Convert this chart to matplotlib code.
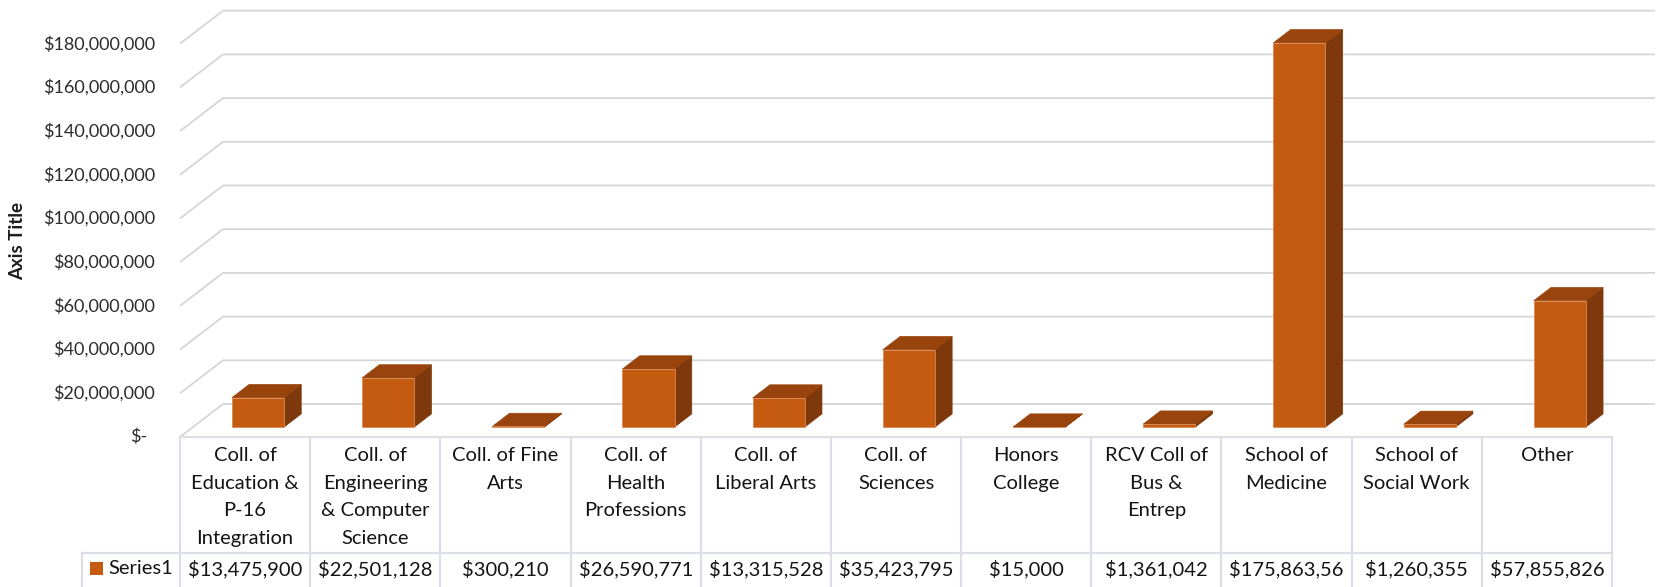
import matplotlib
matplotlib.use("Agg")
import matplotlib.pyplot as plt
from matplotlib.patches import Polygon, Rectangle
from matplotlib.transforms import blended_transform_factory, Bbox

# ---------------- data ----------------
categories = [
    "Coll. of\nEducation &\nP-16\nIntegration",
    "Coll. of\nEngineering\n& Computer\nScience",
    "Coll. of Fine\nArts",
    "Coll. of\nHealth\nProfessions",
    "Coll. of\nLiberal Arts",
    "Coll. of\nSciences",
    "Honors\nCollege",
    "RCV Coll of\nBus &\nEntrep",
    "School of\nMedicine",
    "School of\nSocial Work",
    "Other",
]
values = [13475900, 22501128, 300210, 26590771, 13315528, 35423795,
          15000, 1361042, 175863560, 1260355, 57855826]
series_name = "Series1"
y_ticks = [0, 20000000, 40000000, 60000000, 80000000, 100000000,
           120000000, 140000000, 160000000, 180000000]
y_title = "Axis Title"

# ---------------- style ----------------
plt.rcParams['font.family'] = ['Lato', 'DejaVu Sans']
W, H, DPI = 1658, 587, 100
FRONT = '#C55A11'
TOP = '#99440D'
SIDE = '#7E380B'
GRID = '#d4d6da'
BORDER = '#dcdfe5'
TXT = '#141414'

fig = plt.figure(figsize=(W / DPI, H / DPI), dpi=DPI)
x_left, x_right = 180, 1612
y0_px = 150            # pixel (from bottom) of the value 0 on the front plane
ax = fig.add_axes([x_left / W, y0_px / H, (x_right - x_left) / W, (H - y0_px) / H])
n = len(categories)
ax.set_xlim(0, n)
ax.set_ylim(0, 200000000)
for s in ax.spines.values():
    s.set_visible(False)
ax.set_xticks([])
ax.set_yticks([])

# depth of the floor (oblique projection) in data units
col_px = (x_right - x_left) / n
px_per_val = (H - y0_px) / 200000000
DX = 43 / col_px
DY = 33 / px_per_val

# walls / gridlines
for v in y_ticks:
    ax.plot([0, DX, n + DX], [v, v + DY, v + DY], color=GRID, lw=1.3,
            clip_on=False, zorder=1, solid_capstyle='butt')

# bars
bw = 0.4
f, b = 0.3, 0.7
for i, v in enumerate(values):
    x0 = i + 0.5 - bw / 2
    x1 = x0 + bw
    side = Polygon([(x1 + f * DX, f * DY), (x1 + b * DX, b * DY),
                    (x1 + b * DX, v + b * DY), (x1 + f * DX, v + f * DY)],
                   closed=True, facecolor=SIDE, edgecolor=SIDE, lw=0.5,
                   zorder=3, clip_on=False)
    top = Polygon([(x0 + f * DX, v + f * DY), (x1 + f * DX, v + f * DY),
                   (x1 + b * DX, v + b * DY), (x0 + b * DX, v + b * DY)],
                  closed=True, facecolor=TOP, edgecolor=TOP, lw=0.5,
                  zorder=3, clip_on=False)
    front = Rectangle((x0 + f * DX, f * DY), bw, v, facecolor=FRONT,
                      edgecolor='#d98a55', lw=0.6, zorder=4, clip_on=False)
    ax.add_patch(side)
    ax.add_patch(top)
    ax.add_patch(front)

# y axis labels (accounting style, aligned to the front plane)
ylab_tr = blended_transform_factory(ax.transAxes, ax.transData)
axw = x_right - x_left
for v in y_ticks:
    if v == 0:
        txt, right_px = "$-", 147
    else:
        txt, right_px = "${:,.0f}".format(v), 155
    ax.text(-(x_left - right_px) / axw, v, txt, transform=ylab_tr, ha='right',
            va='center', fontsize=13, color='#2b2b2b', clip_on=False)

fig.text(18 / W, 1 - 241 / H, y_title, rotation=90, ha='center', va='center',
         fontsize=13.5, fontweight='bold', color='#1e1e1e')

# ---------------- data table ----------------
tr = blended_transform_factory(ax.transData, fig.transFigure)
def fy(px_from_top):
    return 1 - px_from_top / H

t_top, t_mid, t_bot = 437, 553, 600
ax.plot([0, n], [0, 0], color=BORDER, lw=1.6, clip_on=False, zorder=2)
for k in range(n + 1):
    fig.add_artist(plt.Line2D([k, k], [fy(t_top), fy(t_bot)], transform=tr,
                              color=BORDER, lw=1.6))
key_left = (82 - x_left) / col_px
fig.add_artist(plt.Line2D([key_left, n], [fy(t_mid), fy(t_mid)], transform=tr,
                          color=BORDER, lw=1.6))
fig.add_artist(plt.Line2D([key_left, key_left], [fy(t_mid), fy(t_bot)], transform=tr,
                          color=BORDER, lw=1.6))

for i, c in enumerate(categories):
    fig.text(i + 0.5, fy(447), c, transform=tr, ha='center', va='top',
             fontsize=14.5, color=TXT, linespacing=1.76)

# legend key + series name
fig.add_artist(Rectangle((90 / W, fy(575)), 13 / W, 13 / H, transform=fig.transFigure,
                         facecolor=FRONT, edgecolor='none'))
fig.text(108 / W, fy(569), series_name, ha='left', va='center', fontsize=14.5, color=TXT)

renderer = fig.canvas.get_renderer()
pad_px = 8
for i, v in enumerate(values):
    t = fig.text(i + 0.5, fy(569), "${:,.0f}".format(v), transform=tr, ha='center',
                 va='center', fontsize=14.5, color=TXT)
    wpx = t.get_window_extent(renderer).width
    if wpx > col_px - 2 * pad_px:
        t.set_x(i + pad_px / col_px)
        t.set_ha('left')
        cx0 = ax.transData.transform((i, 0))[0]
        cx1 = ax.transData.transform((i + 1, 0))[0]
        t.set_clip_box(Bbox([[cx0 + 1, 0], [cx1 - pad_px, H]]))
        t.set_clip_on(True)

fig.savefig("out.png", dpi=DPI)
